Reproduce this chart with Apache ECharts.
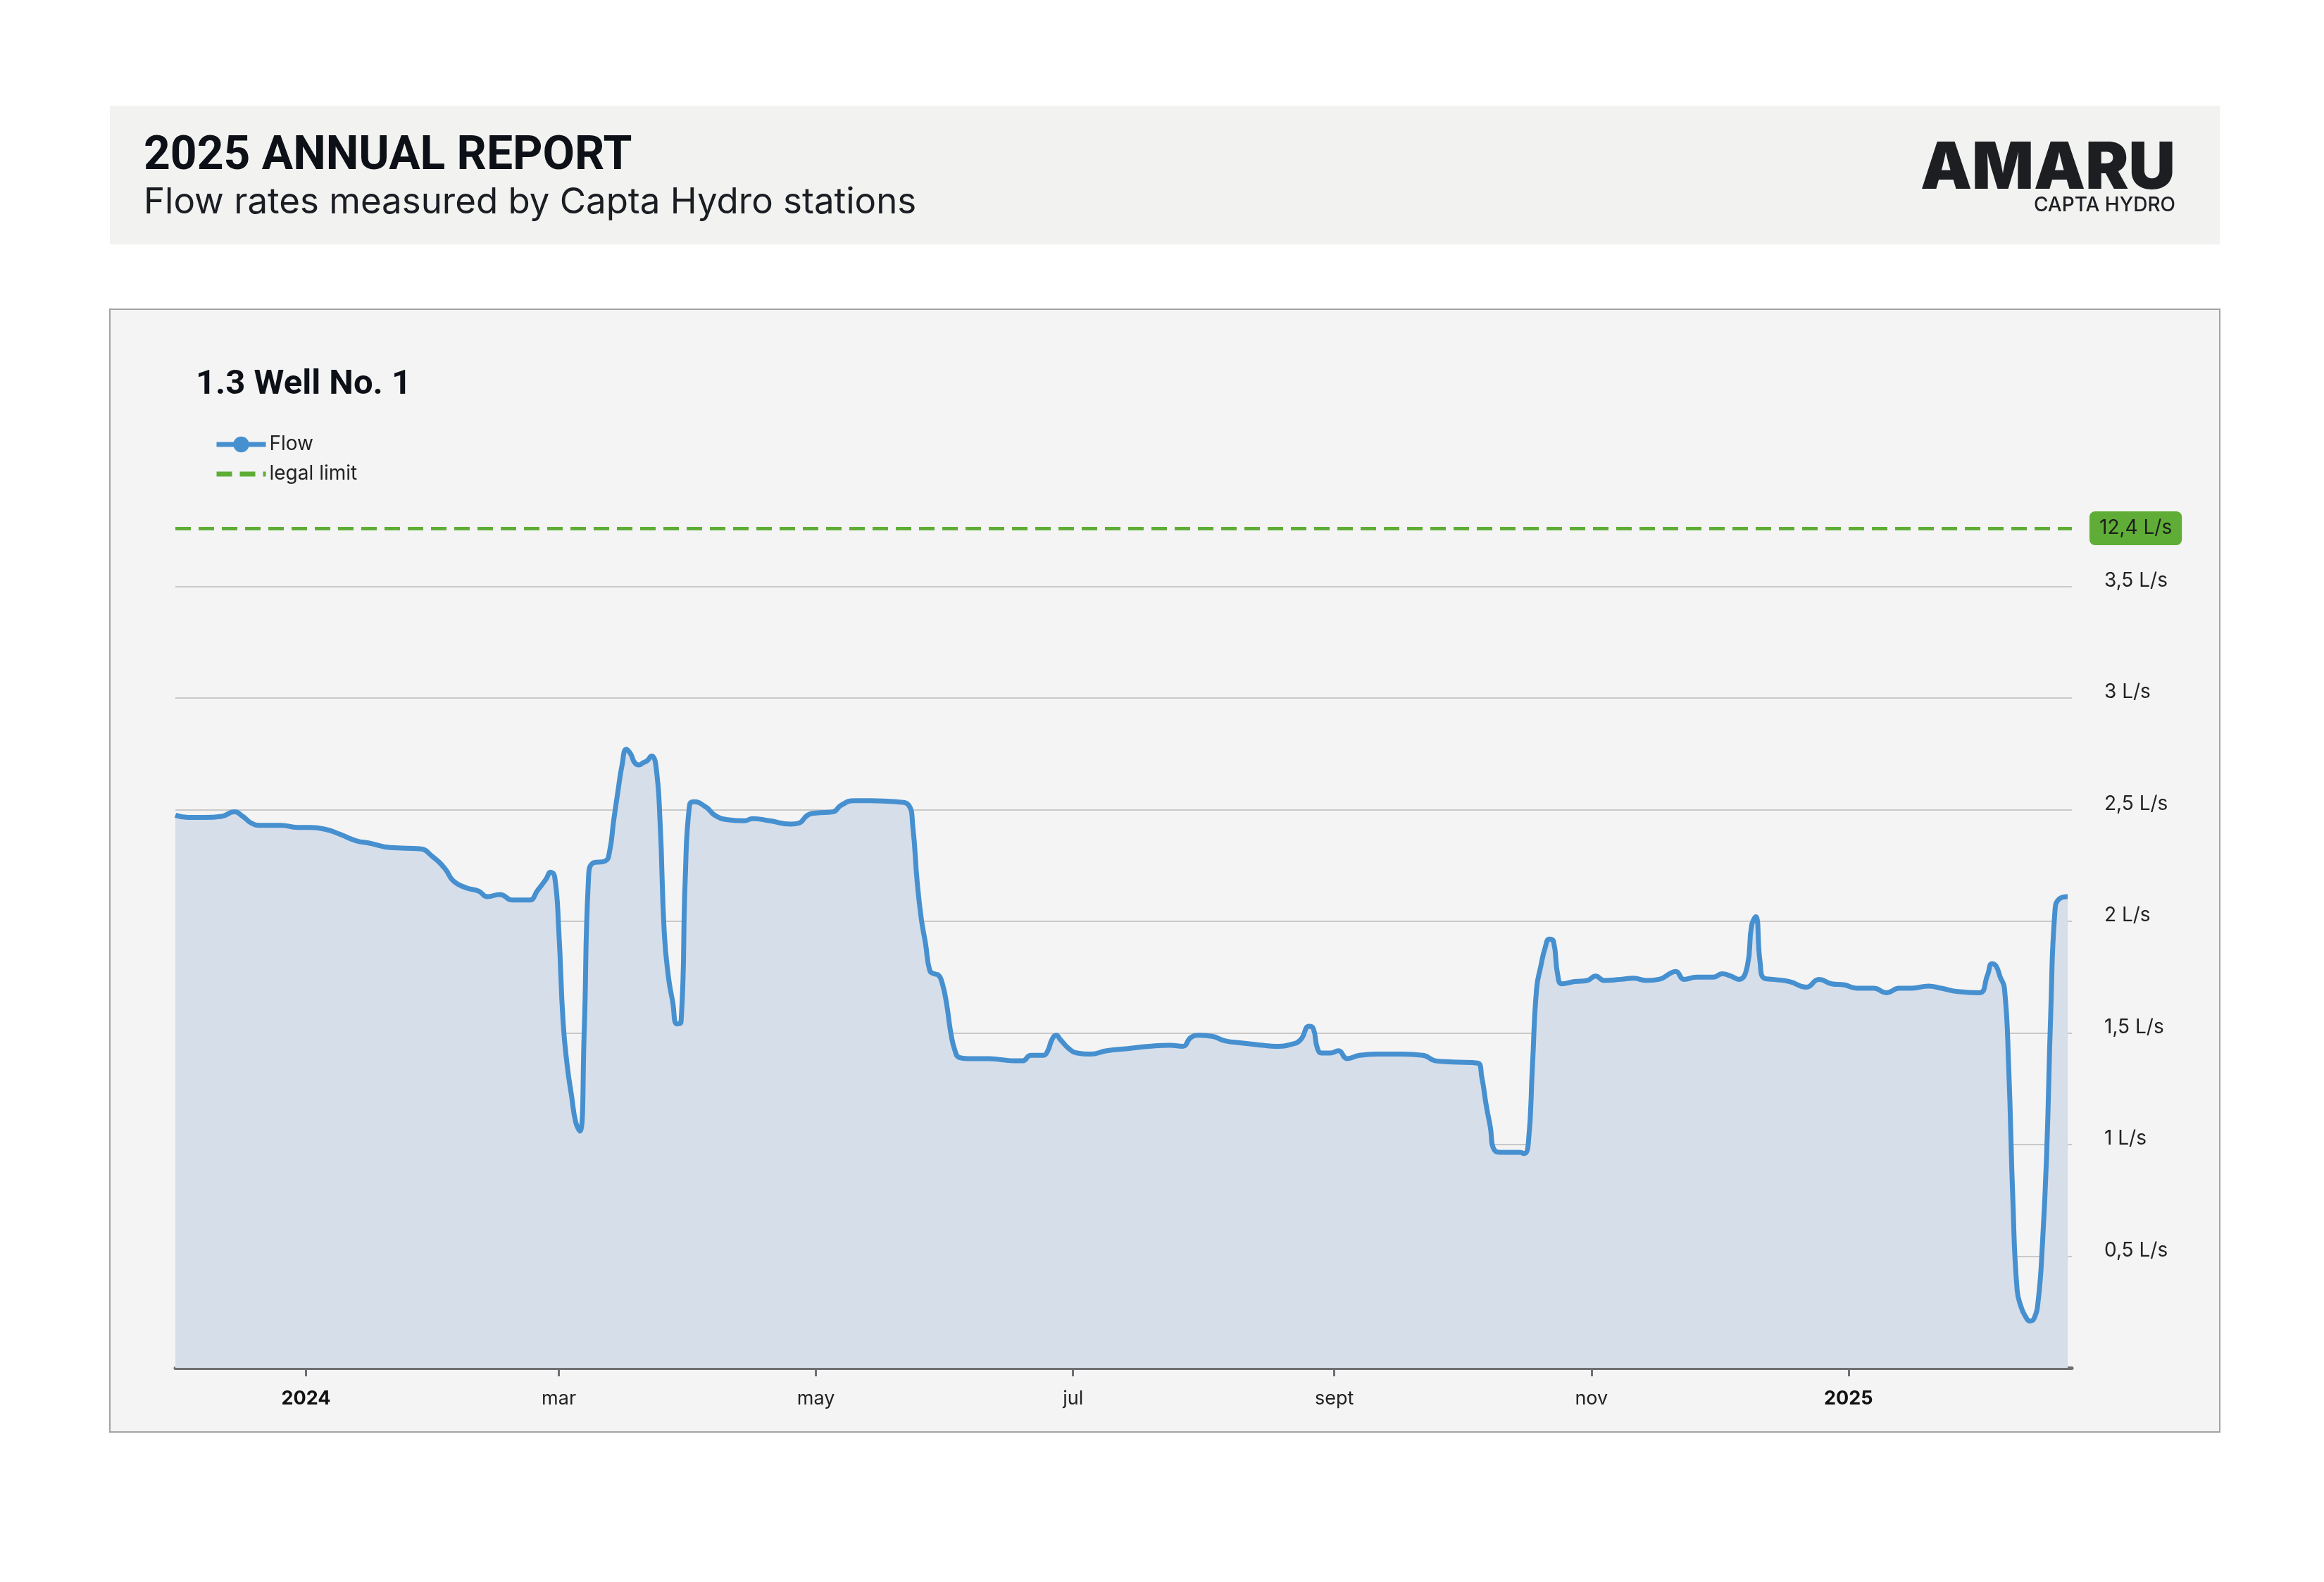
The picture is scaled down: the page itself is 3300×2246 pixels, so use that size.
<!DOCTYPE html>
<html>
<head>
<meta charset="utf-8">
<title>2025 Annual Report - Well No. 1</title>
<script src="https://cdn.jsdelivr.net/npm/echarts@6.0.0/dist/echarts.min.js"></script>
<style>
  html, body { margin: 0; padding: 0; background: #fff; }
  #chart { width: 3300px; height: 2246px; }
</style>
</head>
<body>
<div id="chart"></div>
<script>
// flow readings (L/s)
const flowDates = [
  '2023-12-01', '2023-12-04', '2023-12-08', '2023-12-12', '2023-12-15', '2023-12-17', '2023-12-19', '2023-12-21', '2023-12-26', '2023-12-30',
  '2024-01-02', '2024-01-06', '2024-01-09', '2024-01-13', '2024-01-16', '2024-01-21', '2024-01-28', '2024-01-31',
  '2024-02-03', '2024-02-05', '2024-02-08', '2024-02-11', '2024-02-13', '2024-02-16', '2024-02-19', '2024-02-23', '2024-02-25', '2024-02-27', '2024-02-28', '2024-02-29',
  '2024-03-01', '2024-03-02', '2024-03-03', '2024-03-04', '2024-03-05', '2024-03-06', '2024-03-07', '2024-03-08', '2024-03-09', '2024-03-12',
  '2024-03-13', '2024-03-14', '2024-03-15', '2024-03-16', '2024-03-17', '2024-03-18', '2024-03-19', '2024-03-20', '2024-03-21', '2024-03-22',
  '2024-03-23', '2024-03-24', '2024-03-25', '2024-03-26', '2024-03-27', '2024-03-28', '2024-03-29', '2024-03-30', '2024-03-31',
  '2024-04-01', '2024-04-02', '2024-04-05', '2024-04-07', '2024-04-10', '2024-04-14', '2024-04-16', '2024-04-20', '2024-04-25', '2024-04-27', '2024-04-29',
  '2024-05-01', '2024-05-05', '2024-05-07', '2024-05-10', '2024-05-14', '2024-05-20', '2024-05-23', '2024-05-24', '2024-05-25', '2024-05-26',
  '2024-05-27', '2024-05-28', '2024-05-29', '2024-05-30', '2024-05-31',
  '2024-06-01', '2024-06-02', '2024-06-03', '2024-06-04', '2024-06-06', '2024-06-11', '2024-06-14', '2024-06-17', '2024-06-19', '2024-06-21',
  '2024-06-24', '2024-06-25', '2024-06-26', '2024-06-27', '2024-06-28', '2024-06-30',
  '2024-07-02', '2024-07-05', '2024-07-09', '2024-07-14', '2024-07-19', '2024-07-24', '2024-07-27', '2024-07-29', '2024-07-31',
  '2024-08-03', '2024-08-06', '2024-08-10', '2024-08-15', '2024-08-18', '2024-08-22', '2024-08-24', '2024-08-26', '2024-08-27', '2024-08-28', '2024-08-29', '2024-08-31',
  '2024-09-02', '2024-09-04', '2024-09-07', '2024-09-11', '2024-09-17', '2024-09-22', '2024-09-25', '2024-09-29',
  '2024-10-05', '2024-10-06', '2024-10-07', '2024-10-08', '2024-10-09', '2024-10-11', '2024-10-15', '2024-10-16', '2024-10-17', '2024-10-18',
  '2024-10-19', '2024-10-20', '2024-10-21', '2024-10-22', '2024-10-23', '2024-10-24', '2024-10-25', '2024-10-28', '2024-10-31',
  '2024-11-02', '2024-11-04', '2024-11-08', '2024-11-11', '2024-11-14', '2024-11-17', '2024-11-20', '2024-11-21', '2024-11-23', '2024-11-26', '2024-11-30',
  '2024-12-02', '2024-12-04', '2024-12-06', '2024-12-08', '2024-12-09', '2024-12-10', '2024-12-11', '2024-12-12', '2024-12-14', '2024-12-18',
  '2024-12-22', '2024-12-25', '2024-12-28', '2024-12-31',
  '2025-01-03', '2025-01-07', '2025-01-10', '2025-01-13', '2025-01-16', '2025-01-20', '2025-01-23', '2025-01-27',
  '2025-02-01', '2025-02-03', '2025-02-04', '2025-02-05', '2025-02-06', '2025-02-07', '2025-02-08', '2025-02-09', '2025-02-10', '2025-02-11',
  '2025-02-12', '2025-02-13', '2025-02-14', '2025-02-15', '2025-02-16', '2025-02-17', '2025-02-18', '2025-02-19', '2025-02-20', '2025-02-22'
];
const flowValues = [
  2.475, 2.465, 2.465, 2.47, 2.49, 2.47, 2.44, 2.43, 2.43, 2.42,
  2.42, 2.41, 2.39, 2.36, 2.35, 2.33, 2.325, 2.29,
  2.235, 2.18, 2.15, 2.135, 2.11, 2.12, 2.095, 2.095, 2.14, 2.19, 2.22, 2.20,
  1.95, 1.55, 1.35, 1.22, 1.10, 1.06, 1.5, 2.18, 2.26, 2.27,
  2.31, 2.45, 2.58, 2.70, 2.77, 2.75, 2.71, 2.70, 2.71, 2.72,
  2.74, 2.70, 2.45, 1.95, 1.75, 1.64, 1.54, 1.55, 2.2,
  2.52, 2.535, 2.51, 2.475, 2.455, 2.45, 2.46, 2.45, 2.435, 2.44, 2.475,
  2.485, 2.49, 2.52, 2.54, 2.54, 2.535, 2.52, 2.42, 2.18, 2.01,
  1.90, 1.78, 1.765, 1.76, 1.72,
  1.63, 1.50, 1.42, 1.39, 1.385, 1.385, 1.38, 1.375, 1.375, 1.40,
  1.40, 1.42, 1.47, 1.49, 1.47, 1.43,
  1.41, 1.405, 1.42, 1.43, 1.44, 1.445, 1.44, 1.48, 1.49,
  1.485, 1.465, 1.455, 1.445, 1.44, 1.45, 1.47, 1.53, 1.52, 1.43, 1.41, 1.41,
  1.42, 1.385, 1.40, 1.405, 1.405, 1.40, 1.375, 1.37,
  1.365, 1.30, 1.18, 1.08, 0.975, 0.965, 0.965, 0.96, 1.0, 1.35,
  1.70, 1.80, 1.88, 1.92, 1.91, 1.76, 1.72, 1.73, 1.735,
  1.755, 1.735, 1.74, 1.745, 1.735, 1.74, 1.77, 1.775, 1.74, 1.75, 1.75,
  1.765, 1.755, 1.74, 1.80, 1.98, 2.02, 1.82, 1.745, 1.74, 1.73,
  1.705, 1.74, 1.72, 1.715,
  1.70, 1.70, 1.68, 1.70, 1.70, 1.71, 1.70, 1.685,
  1.68, 1.76, 1.81, 1.80, 1.75, 1.70, 1.35, 0.75, 0.35, 0.27,
  0.23, 0.21, 0.22, 0.30, 0.55, 0.95, 1.60, 2.05, 2.10, 2.11
];

// x axis ticks
const tickDates = ['2024-01-01', '2024-03-01', '2024-05-01', '2024-07-01', '2024-09-01', '2024-11-01', '2025-01-01'];
const tickLabels = ['2024', 'mar', 'may', 'jul', 'sept', 'nov', '2025'];

const legalLimit = 12.4;   // L/s, off the scale: drawn at the top edge
const yMax = 3.76;
const xStart = '2023-12-01';
const xEnd = '2025-02-23';

const BLUE = '#4690d0';
const GREEN = '#5fad36';
const FONT = 'Inter';
const HEAD_FONT = 'Roboto';

function toTime(s) {
  const p = s.split('-').map(Number);
  return new Date(p[0], p[1] - 1, p[2]).getTime();
}
function fmtNum(v) {
  return String(v).replace('.', ',') + ' L/s';
}

const tickTimes = tickDates.map(toTime);
const flowData = flowDates.map((d, i) => [toTime(d), flowValues[i]]);

const chart = echarts.init(document.getElementById('chart'), null, { width: 3300, height: 2246 });

chart.setOption({
  backgroundColor: '#ffffff',
  animation: false,
  textStyle: { fontFamily: FONT },
  graphic: [
    { type: 'rect', z: -10, shape: { x: 156, y: 150, width: 2996, height: 197 }, style: { fill: '#f2f2f1' } },
    { type: 'rect', z: -10, shape: { x: 156, y: 439, width: 2996, height: 1594 }, style: { fill: '#f4f4f4', stroke: '#a3a3a3', lineWidth: 2 } },
    { type: 'text', x: 204, y: 223, style: { text: '2025 ANNUAL REPORT', fontFamily: HEAD_FONT, fontWeight: 'bold', fontSize: 66, fill: '#0d1117', verticalAlign: 'middle' } },
    { type: 'text', x: 204, y: 288, style: { text: 'Flow rates measured by Capta Hydro stations', fontFamily: FONT, fontSize: 51, fill: '#1a1d22', verticalAlign: 'middle' } },
    { type: 'text', x: 3089, y: 240, style: { text: 'AMARU', fontFamily: FONT, fontWeight: 900, fontSize: 92, fill: '#1c1e22', align: 'right', verticalAlign: 'middle' } },
    { type: 'text', x: 3089, y: 292, style: { text: 'CAPTA HYDRO', fontFamily: FONT, fontWeight: 500, fontSize: 28, fill: '#1c1e22', align: 'right', verticalAlign: 'middle' } },
    { type: 'text', x: 278, y: 547, style: { text: '1.3 Well No. 1', fontFamily: HEAD_FONT, fontWeight: 'bold', fontSize: 49, fill: '#0d1117', verticalAlign: 'middle' } }
  ],
  legend: {
    orient: 'vertical',
    left: 299,
    top: 612,
    itemWidth: 70,
    itemHeight: 28,
    itemGap: 14,
    lineStyle: { width: 7 },
    textStyle: { fontSize: 28, color: '#222' },
    data: [
      { name: 'Flow' },
      { name: 'legal limit', itemStyle: { opacity: 0 } }
    ]
  },
  grid: { left: 249, right: 358, top: 750, bottom: 304 },
  xAxis: {
    type: 'value',
    min: toTime(xStart),
    max: toTime(xEnd),
    axisLine: { lineStyle: { color: '#6f6f73', width: 5 } },
    axisTick: { customValues: tickTimes, length: 12, lineStyle: { color: '#6f6f73', width: 3 } },
    axisLabel: {
      customValues: tickTimes,
      margin: 30,
      fontSize: 27,
      color: '#222',
      formatter: function (v) {
        let idx = 0;
        tickTimes.forEach((t, i) => { if (Math.abs(t - v) < Math.abs(tickTimes[idx] - v)) idx = i; });
        const lab = tickLabels[idx];
        return /^\d{4}$/.test(lab) ? '{yr|' + lab + '}' : lab;
      },
      rich: { yr: { fontSize: 27, fontWeight: 'bold', color: '#111' } }
    },
    splitLine: { show: false }
  },
  yAxis: {
    type: 'value',
    position: 'right',
    min: 0,
    max: yMax,
    interval: 0.5,
    axisLine: { show: false },
    axisTick: { show: false },
    axisLabel: {
      margin: 46,
      fontSize: 28,
      color: '#222',
      verticalAlign: 'bottom',
      lineHeight: 16,
      showMinLabel: false,
      showMaxLabel: false,
      formatter: fmtNum
    },
    splitLine: { showMinLine: false, showMaxLine: false, lineStyle: { color: '#c9c9c9', width: 2 } }
  },
  series: [
    {
      name: 'Flow',
      type: 'line',
      data: flowData,
      smooth: 0.5,
      symbol: 'circle',
      symbolSize: 23,
      showSymbol: false,
      itemStyle: { color: BLUE },
      lineStyle: { color: BLUE, width: 7 },
      areaStyle: { color: '#d6deea', opacity: 1 },
      z: 3
    },
    {
      name: 'legal limit',
      type: 'line',
      data: [],
      symbol: 'none',
      itemStyle: { color: GREEN },
      lineStyle: { color: GREEN, width: 5, type: [22, 11] },
      markLine: {
        silent: true,
        symbol: ['none', 'none'],
        lineStyle: { color: GREEN, width: 5, type: [22, 11] },
        label: {
          position: 'end',
          distance: 25,
          formatter: fmtNum(legalLimit),
          fontSize: 28,
          lineHeight: 28,
          color: '#1d1d1d',
          backgroundColor: GREEN,
          padding: [10, 14, 10, 14],
          borderRadius: 8
        },
        data: [{ yAxis: yMax }]
      },
      z: 4
    }
  ]
});
</script>
</body>
</html>
